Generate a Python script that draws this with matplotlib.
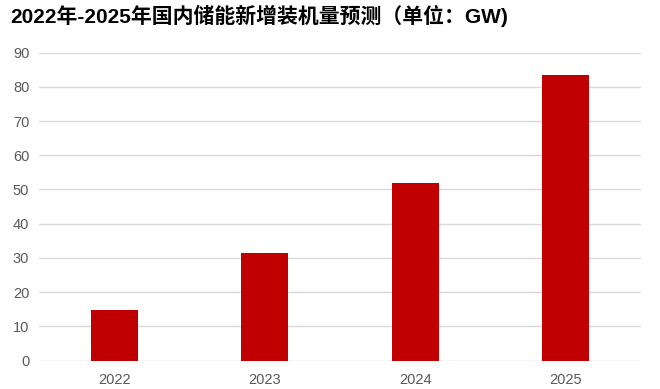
import matplotlib
matplotlib.use("Agg")
import matplotlib.pyplot as plt

years = ["2022", "2023", "2024", "2025"]
values = [14.7, 31.3, 52.0, 83.5]
yticks = [0, 10, 20, 30, 40, 50, 60, 70, 80, 90]
title = "2022年-2025年国内储能新增装机量预测（单位：GW)"

plt.rcParams['font.family'] = ['Liberation Sans', 'Noto Sans CJK SC', 'DejaVu Sans']

fig = plt.figure(figsize=(6.6, 3.89), dpi=100)
ax = fig.add_axes([39/660, 28.5/389, (641-39)/660, (360.5-52.7)/389])

x = range(len(years))
ax.bar(x, values, width=0.31, color="#C00000", zorder=3)
ax.set_xlim(-0.5, 3.5)
ax.set_ylim(0, 90)
ax.set_yticks(yticks)
ax.set_xticks(list(x))
ax.set_xticklabels(years)
ax.yaxis.grid(True, color="#D9D9D9", linewidth=1.0, zorder=0)
ax.set_axisbelow(True)
for s in ax.spines.values():
    s.set_visible(False)
ax.tick_params(axis='both', length=0, labelsize=10.5, labelcolor="#595959")
ax.tick_params(axis='y', pad=7)
ax.tick_params(axis='x', pad=9)

fig.text(10/660, 1 - 16/389, title, fontsize=15, fontweight='bold',
         color='black', ha='left', va='center')

fig.savefig("out.png", dpi=100, facecolor='white')
